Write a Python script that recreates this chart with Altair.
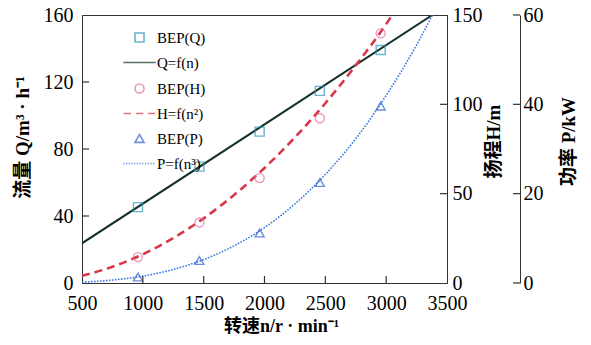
import altair as alt
import pandas as pd

# ---- data ----
speed_bep = [960, 1465, 1960, 2455, 2955]
q_bep = [45.3, 69.5, 90.4, 114.7, 139.1]
h_bep = [14.5, 33.9, 58.7, 92.2, 139.7]
p_bep = [1.35, 5.05, 11.2, 22.5, 39.6]

q_fit_n = [500, 3380]
q_fit = [23.7, 160.0]
h_fit_n = [500, 750, 1000, 1250, 1500, 1750, 2000, 2250, 2500, 2750, 3000, 3050]
h_fit = [4.0, 9.1, 16.1, 25.2, 36.2, 49.3, 64.4, 81.5, 100.6, 121.8, 144.9, 150.0]
p_fit_n = [500, 750, 1000, 1250, 1500, 1750, 2000, 2250, 2500, 2750, 3000, 3250, 3380]
p_fit = [0.19, 0.66, 1.55, 3.03, 5.24, 8.33, 12.4, 17.7, 24.3, 32.3, 42.0, 53.3, 60.0]

x_ticks = [500, 1000, 1500, 2000, 2500, 3000, 3500]
q_ticks = [0, 40, 80, 120, 160]
h_ticks = [0, 50, 100, 150]
p_ticks = [0, 20, 40, 60]

legend_labels = ["BEP(Q)", "Q=f(n)", "BEP(H)", "H=f(n²)", "BEP(P)", "P=f(n³)"]

# ---- styles ----
C_QPT, C_QLN = "#2a93b8", "#14302a"
C_HPT, C_HLN = "#e46aa8", "#d9364a"
C_PPT, C_PLN = "#2f5fd0", "#3a78e0"
SERIF = "Liberation Serif"
CJK = "Liberation Serif, Noto Sans CJK SC"
AX = "#333333"
TICK = 7

W, H = 365, 268
P_OFF = 73


def segs(pairs):
    return "".join(f"M{a:.2f},0H{b:.2f}" for a, b in pairs)


solid_path = segs([(-3.6, 3.6)])
dash_path = segs([(-3.5, -1.9), (-0.8, 0.8), (1.9, 3.5)])
dot_path = segs([(-3.6 + 0.6 * i, -3.6 + 0.6 * i + 0.3) for i in range(12)])

shape_range = ["square", solid_path, "circle", dash_path, "triangle-up", dot_path]
color_range = [C_QPT, C_QLN, C_HPT, C_HLN, C_PPT, C_PLN]

x_scale = alt.Scale(domain=[500, 3500], nice=False, zero=False)
x_enc = alt.X(
    "n:Q",
    scale=x_scale,
    axis=alt.Axis(
        values=x_ticks, title="转速n/r · min⁻¹", grid=False, format="d",
        ticks=False, labelPadding=10, labelFontSize=20,
        labelFont=SERIF, labelColor="black", domainColor=AX,
        titleFont=CJK, titleFontSize=18, titleFontWeight="bold", titleColor="black",
        titleX=199, titleY=43, titleBaseline="middle", titleAlign="center",
        labelFlush=False, labelOverlap=False, orient="bottom",
    ),
)


def yaxis(ticks, title, orient, offset, tx, ty, lpad):
    return alt.Axis(
        values=ticks, title=title, grid=False, orient=orient, offset=offset, format="d",
        ticks=False, labelPadding=lpad, labelFontSize=20,
        labelFont=SERIF, labelColor="black", domainColor=AX,
        titleFont=CJK, titleFontSize=19, titleFontWeight="bold", titleColor="black",
        titleX=tx, titleY=ty, titleAngle=270, titleBaseline="middle", titleAlign="center",
        labelBaseline="middle", labelFlush=False, labelOverlap=False,
    )


legend = alt.Legend(
    title=None, orient="none", legendX=50, legendY=15, padding=0,
    symbolSize=81, symbolStrokeWidth=1.6, labelFont=SERIF, labelFontSize=15,
    labelColor="black", rowPadding=9, labelOffset=10, labelLimit=200,
)
color_enc = alt.Color("series:N", scale=alt.Scale(domain=legend_labels, range=color_range), legend=legend)
shape_enc = alt.Shape("series:N", scale=alt.Scale(domain=legend_labels, range=shape_range), legend=legend)


def layer_for(fit_n, fit_v, bep_v, name, dom, axis, line_color, dash, sw):
    line_df = pd.DataFrame({"n": fit_n, "v": fit_v})
    pt_df = pd.DataFrame({"n": speed_bep, "v": bep_v, "series": name})
    y = alt.Y("v:Q", scale=alt.Scale(domain=dom, nice=False, zero=True), axis=axis)
    line_kw = dict(color=line_color, strokeWidth=sw, interpolate="monotone", clip=True)
    if dash:
        line_kw["strokeDash"] = dash
    ln = alt.Chart(line_df).mark_line(**line_kw).encode(x=x_enc, y=y)
    pt = alt.Chart(pt_df).mark_point(filled=False, size=81, strokeWidth=1.4).encode(
        x=x_enc, y=y, color=color_enc, shape=shape_enc
    )
    return alt.layer(ln, pt)


def y_tick_layer(ticks, dom, xc):
    df = pd.DataFrame({"v": ticks})
    return alt.Chart(df).mark_tick(
        color=AX, orient="horizontal", thickness=1.2, size=TICK, opacity=1
    ).encode(
        y=alt.Y("v:Q", scale=alt.Scale(domain=dom, nice=False, zero=True), axis=None),
        x=alt.value(xc),
    )


q_layer = layer_for(q_fit_n, q_fit, q_bep, "BEP(Q)", [0, 160],
                    yaxis(q_ticks, "流量 Q/m³ · h⁻¹", "left", 0, -60, 122, 9),
                    C_QLN, None, 2.0)
h_layer = layer_for(h_fit_n, h_fit, h_bep, "BEP(H)", [0, 150],
                    yaxis(h_ticks, "扬程H/m", "right", 0, 46, 126, 5),
                    C_HLN, [8, 5], 2.6)
p_layer = layer_for(p_fit_n, p_fit, p_bep, "BEP(P)", [0, 60],
                    yaxis(p_ticks, "功率 P/kW", "right", P_OFF, 48, 126, 3),
                    C_PLN, [1.6, 1.4], 1.6)

q_tk = y_tick_layer(q_ticks[1:-1], [0, 160], TICK / 2)
h_tk = y_tick_layer(h_ticks[1:-1], [0, 150], W - TICK / 2)
p_tk = y_tick_layer(p_ticks, [0, 60], W + P_OFF - TICK / 2)

x_tk = alt.Chart(pd.DataFrame({"n": x_ticks[1:-1]})).mark_tick(
    color=AX, orient="vertical", thickness=1.2, size=TICK, opacity=1
).encode(x=x_enc, y=alt.value(H - TICK / 2))

chart = (
    alt.layer(q_layer, h_layer, p_layer, q_tk, h_tk, p_tk, x_tk)
    .resolve_scale(y="independent")
    .properties(
        width=W, height=H,
        autosize=alt.AutoSizeParams(type="none"),
        padding={"left": 82, "top": 15, "right": 144, "bottom": 62},
        background="white",
    )
    .configure_view(stroke=AX, strokeWidth=1)
)

chart.save("out.html", embed_options={"renderer": "svg", "actions": False})
